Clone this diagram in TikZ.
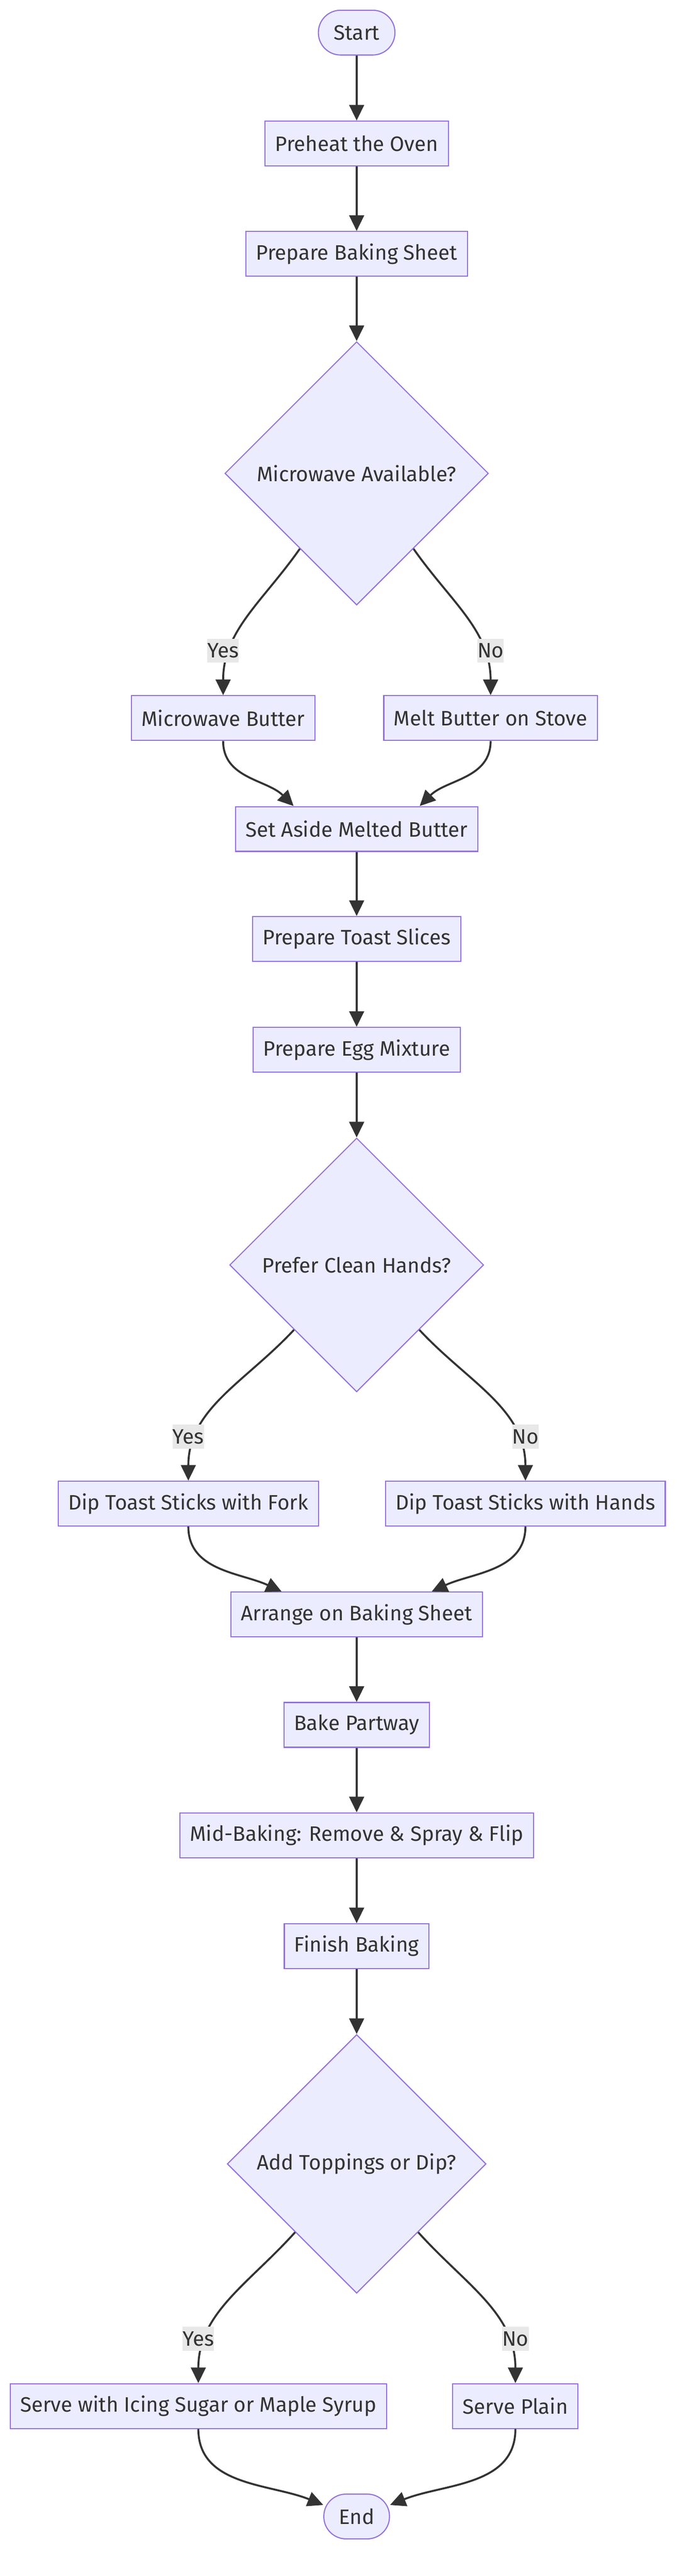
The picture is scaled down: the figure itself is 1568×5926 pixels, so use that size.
\documentclass[tikz,border=0pt]{standalone}
\usepackage{fontspec}
\setmainfont{Fira Sans}
\usetikzlibrary{shapes.geometric,arrows.meta,positioning}
\definecolor{boxfill}{HTML}{ECECFF}
\definecolor{boxline}{HTML}{9370DB}
\definecolor{ink}{HTML}{333333}
\definecolor{answerbg}{HTML}{E8E8E8}
\tikzset{
>={Triangle[length=36pt,width=34pt]},
  stepbox/.style={
    rectangle,
    draw=boxline, line width=2.5pt,
    fill=boxfill,
    text=ink,
    font=\fontsize{48}{57}\selectfont,
    inner xsep=23pt,
    minimum height=103pt,
    text centered},
  terminal/.style={stepbox, rounded corners=51pt},
  decision/.style={stepbox, diamond, inner sep=0pt},
  line/.style={draw=ink, line width=4.5pt, ->},
  answer/.style={
    fill=answerbg, text=ink,
    font=\fontsize{48}{57}\selectfont,
    inner xsep=0pt, inner ysep=0pt,
    minimum height=55pt},
}
\begin{document}
\begin{tikzpicture}[x=1pt,y=1pt]
  \fill[white] (0,0) rectangle (1568,-5926);
  \useasboundingbox (0,0) rectangle (1568,-5926);
  % main column
  \node[terminal, minimum width=176pt] (start) at (820,-75) {Start};
  \node[stepbox] (oven) at (820,-330) {Preheat the Oven};
  \node[stepbox] (sheet) at (820,-584) {Prepare Baking Sheet};
  \node[decision, minimum size=606pt] (micro) at (820,-1089) {Microwave Available?};
  \node[stepbox] (mwbutter) at (513,-1652) {Microwave Butter};
  \node[stepbox] (stove) at (1128,-1652) {Melt Butter on Stove};
  \node[stepbox] (aside) at (820,-1907) {Set Aside Melted Butter};
  \node[stepbox] (toast) at (820,-2160) {Prepare Toast Slices};
  \node[stepbox] (egg) at (820,-2415) {Prepare Egg Mixture};
  \node[decision, minimum size=584pt] (clean) at (820,-2910) {Prefer Clean Hands?};
  \node[stepbox] (fork) at (433,-3459) {Dip Toast Sticks with Fork};
  \node[stepbox] (hands) at (1208,-3459) {Dip Toast Sticks with Hands};
  \node[stepbox] (arrange) at (820,-3714) {Arrange on Baking Sheet};
  \node[stepbox] (partway) at (820,-3968) {Bake Partway};
  \node[stepbox] (flip) at (820,-4222) {Mid-Baking: Remove \& Spray \& Flip};
  \node[stepbox] (finish) at (820,-4477) {Finish Baking};
  \node[decision, minimum size=595pt] (topping) at (820,-4978) {Add Toppings or Dip?};
  \node[stepbox] (icing) at (456,-5535) {Serve with Icing Sugar or Maple Syrup};
  \node[stepbox] (plain) at (1185,-5535) {Serve Plain};
  \node[terminal, minimum width=151pt] (end) at (820,-5789) {End};
  % straight connectors
  \draw[line] (start) -- (oven);
  \draw[line] (oven) -- (sheet);
  \draw[line] (sheet) -- (micro);
  \draw[line] (aside) -- (toast);
  \draw[line] (toast) -- (egg);
  \draw[line] (egg) -- (clean);
  \draw[line] (arrange) -- (partway);
  \draw[line] (partway) -- (flip);
  \draw[line] (flip) -- (finish);
  \draw[line] (finish) -- (topping);
  % branches
  \draw[line] (micro.233) to[out=-125,in=90] (mwbutter.north);
  \draw[line] (micro.-53) to[out=-55,in=90] (stove.north);
  \draw[line] (mwbutter.south) to[out=-90,in=135] (aside.160);
  \draw[line] (stove.south) to[out=-90,in=45] (aside.20);
  \draw[line] (clean.226) to[out=-133,in=90] (fork.north);
  \draw[line] (clean.-46) to[out=-47,in=90] (hands.north);
  \draw[line] (fork.south) to[out=-90,in=155] (arrange.163);
  \draw[line] (hands.south) to[out=-90,in=25] (arrange.17);
  \draw[line] (topping.228) to[out=-132,in=90] (icing.north);
  \draw[line] (topping.-48) to[out=-48,in=90] (plain.north);
  \draw[line] (icing.south) to[out=-90,in=158] (end.161);
  \draw[line] (plain.south) to[out=-90,in=22] (end.19);
  % answers
  \node[answer] (yes1) at (513,-1497) {Yes};
  \node[answer] (no1) at (1128,-1497) {No};
  \node[answer] (yes2) at (433,-3305) {Yes};
  \node[answer] (no2) at (1208,-3305) {No};
  \node[answer] (yes3) at (456,-5380) {Yes};
  \node[answer] (no3) at (1185,-5380) {No};
\end{tikzpicture}
\end{document}
